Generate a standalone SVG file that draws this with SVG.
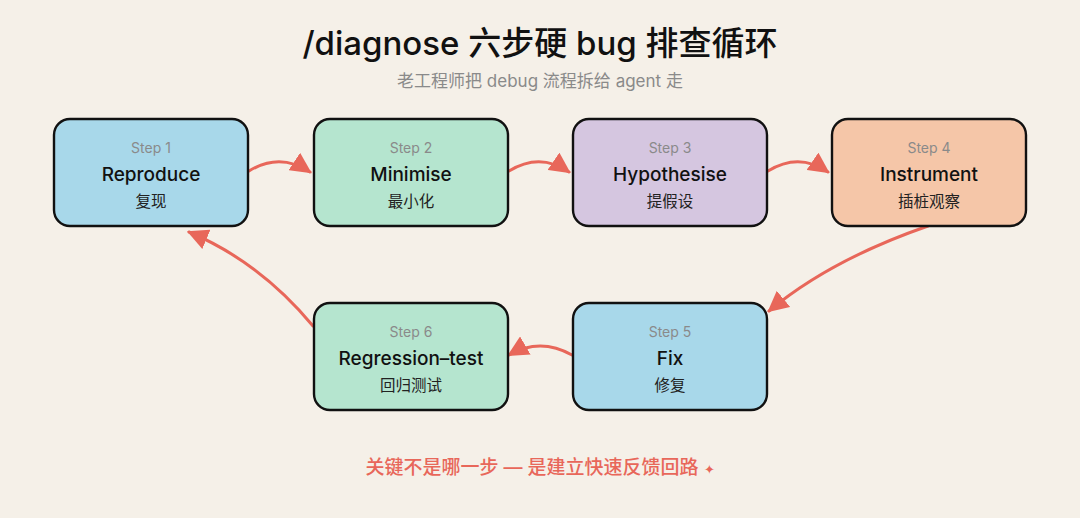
<svg xmlns="http://www.w3.org/2000/svg" width="1080" height="518" viewBox="0 0 1080 518">
<defs>
<style>
.box{stroke:#111;stroke-width:2.4;}
.step{font-family:"Inter","Noto Sans CJK SC",sans-serif;font-size:14px;fill:#8a8a8a;text-anchor:middle;}
.name{font-family:"Inter","Noto Sans CJK SC",sans-serif;font-size:19px;font-weight:500;fill:#111;text-anchor:middle;}
.zh{font-family:"Noto Sans CJK SC",sans-serif;font-size:15.5px;fill:#222;text-anchor:middle;}
.conn{fill:none;stroke:#e8675a;stroke-width:3;stroke-linecap:round;}
</style>
<marker id="ah" viewBox="0 0 10 10" refX="9" refY="5" markerWidth="7" markerHeight="7" markerUnits="strokeWidth" orient="auto">
<path d="M0,0 L10,5 L0,10 Z" fill="#e8675a"/>
</marker>
</defs>
<rect width="1080" height="518" fill="#f5f0e8"/>
<text x="540" y="55" text-anchor="middle" font-family="Inter,'Noto Sans CJK SC',sans-serif" font-size="33" font-weight="500" fill="#111">/diagnose 六步硬 bug 排查循环</text>
<text x="540" y="87" text-anchor="middle" font-family="Inter,'Noto Sans CJK SC',sans-serif" font-size="17" fill="#8a8a8a">老工程师把 debug 流程拆给 agent 走</text>

<g id="connectors">
<path class="conn" d="M249,171 Q280,152 310,172" marker-end="url(#ah)"/>
<path class="conn" d="M509,171 Q540,152 569,172" marker-end="url(#ah)"/>
<path class="conn" d="M768,171 Q799,152 828,172" marker-end="url(#ah)"/>
<path class="conn" d="M928,226 Q830,260 769,311" marker-end="url(#ah)"/>
<path class="conn" d="M572,355 Q540,337 509,355" marker-end="url(#ah)"/>
<path class="conn" d="M313,326 Q260,262 189,232" marker-end="url(#ah)"/>
</g>

<g id="step1">
<rect class="box" x="54" y="119" width="194" height="107" rx="16" fill="#a8d8ea"/>
<text class="step" x="151" y="153">Step 1</text>
<text class="name" x="151" y="181">Reproduce</text>
<text class="zh" x="151" y="207">复现</text>
</g>
<g id="step2">
<rect class="box" x="314" y="119" width="194" height="107" rx="16" fill="#b5e5cf"/>
<text class="step" x="411" y="153">Step 2</text>
<text class="name" x="411" y="181">Minimise</text>
<text class="zh" x="411" y="207">最小化</text>
</g>
<g id="step3">
<rect class="box" x="573" y="119" width="194" height="107" rx="16" fill="#d5c6e0"/>
<text class="step" x="670" y="153">Step 3</text>
<text class="name" x="670" y="181">Hypothesise</text>
<text class="zh" x="670" y="207">提假设</text>
</g>
<g id="step4">
<rect class="box" x="832" y="119" width="194" height="107" rx="16" fill="#f5c6a8"/>
<text class="step" x="929" y="153">Step 4</text>
<text class="name" x="929" y="181">Instrument</text>
<text class="zh" x="929" y="207">插桩观察</text>
</g>
<g id="step5">
<rect class="box" x="573" y="303" width="194" height="107" rx="16" fill="#a8d8ea"/>
<text class="step" x="670" y="337">Step 5</text>
<text class="name" x="670" y="365">Fix</text>
<text class="zh" x="670" y="391">修复</text>
</g>
<g id="step6">
<rect class="box" x="314" y="303" width="194" height="107" rx="16" fill="#b5e5cf"/>
<text class="step" x="411" y="337">Step 6</text>
<text class="name" x="411" y="365">Regression–test</text>
<text class="zh" x="411" y="391">回归测试</text>
</g>

<text x="540" y="474" text-anchor="middle" font-family="Inter,'Noto Sans CJK SC',sans-serif" font-size="19" font-weight="500" fill="#e8675a">关键不是哪一步 — 是建立快速反馈回路 <tspan font-size="13">✦</tspan></text>
</svg>
